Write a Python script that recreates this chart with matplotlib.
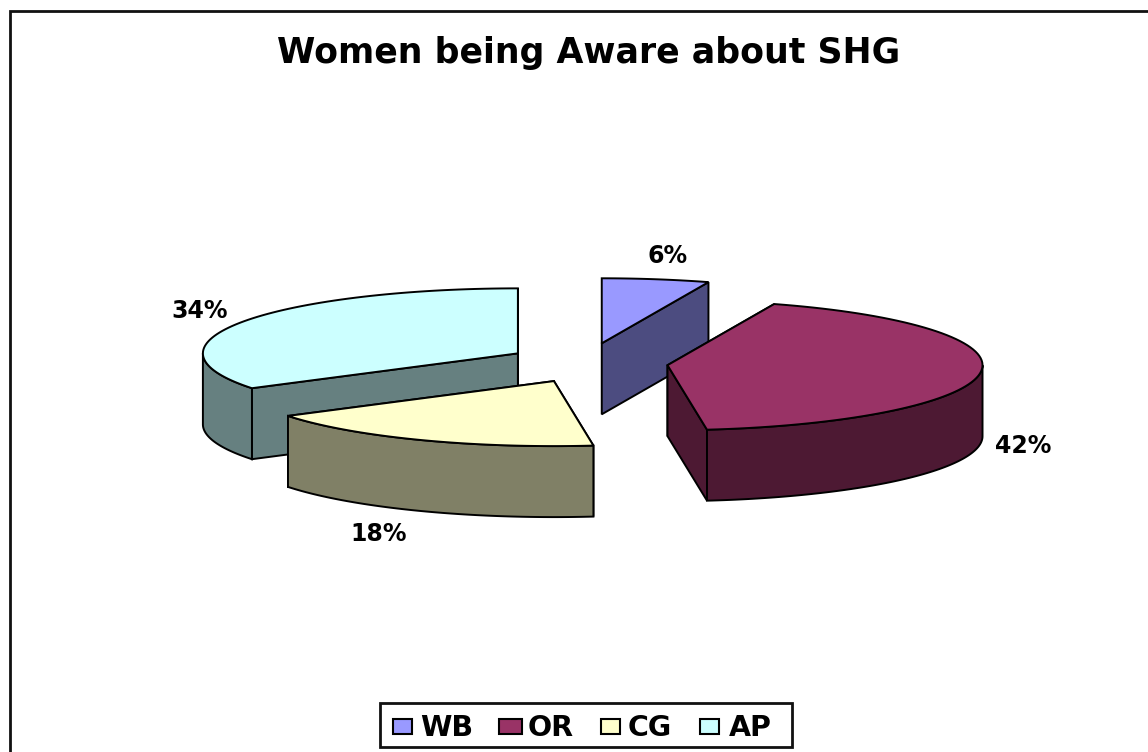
import numpy as np
import matplotlib
matplotlib.use('Agg')
import matplotlib.pyplot as plt
from matplotlib.patches import Polygon, Rectangle

categories = ['WB', 'OR', 'CG', 'AP']
shares = [5.5, 42.5, 18.0, 34.0]
top_colors = ['#9999FF', '#993366', '#FFFFCC', '#CCFFFF']
wall_colors = ['#4C4C80', '#4D1933', '#808066', '#668080']

# pie geometry in image pixels
CX, CY = 588, 363
RX, RY = 315, 65
DEPTH = 71
EXPLODE_X, EXPLODE_Y = 80, 20

label_pos = [(668, 263), (1023, 453), (379, 541), (200, 318)]


def rim(ax_x, ax_y, a0, a1):
    t = np.radians(np.linspace(a0, a1, 80))
    return np.column_stack([ax_x + RX * np.sin(t), ax_y - RY * np.cos(t)])


def draw_slice(ax, a0, a1, top, wall):
    mid = np.radians((a0 + a1) / 2)
    x = CX + EXPLODE_X * np.sin(mid)
    y = CY - EXPLODE_Y * np.cos(mid)
    arc = rim(x, y, a0, a1)
    down = np.array([0, DEPTH])

    # cut faces
    for end in (arc[0], arc[-1]):
        face = [(x, y), end, end + down, (x, y + DEPTH)]
        ax.add_patch(Polygon(face, closed=True, fc=wall, ec='black', lw=1.4))
    # outer wall, only the front half shows
    lo, hi = max(a0, 90), min(a1, 270)
    if hi > lo:
        front = rim(x, y, lo, hi)
        ax.add_patch(Polygon(np.vstack([front, (front + down)[::-1]]), closed=True,
                             fc=wall, ec='black', lw=1.4))
    ax.add_patch(Polygon(np.vstack([[(x, y)], arc]), closed=True, fc=top, ec='black', lw=1.4))


fig = plt.figure(figsize=(11.48, 7.52), dpi=100)
ax = fig.add_axes([0, 0, 1, 1])
ax.set_xlim(0, 1148)
ax.set_ylim(752, 0)
ax.axis('off')

# chart frame, runs off the image on the right and bottom
ax.plot([10, 10, 1148], [752, 11, 11], color='#111111', lw=2, solid_joinstyle='miter')

ends = np.cumsum(shares) / np.sum(shares) * 360
starts = np.concatenate([[0], ends[:-1]])
slices = list(zip(starts, ends, top_colors, wall_colors))
for i in [3, 0, 1, 2]:
    draw_slice(ax, *slices[i])

font = 'DejaVu Sans'
for share, (lx, ly) in zip(shares, label_pos):
    ax.text(lx, ly, f'{share:.0f}%', ha='center', va='baseline', family=font,
            weight='bold', fontsize=17)

ax.text(588.5, 63, 'Women being Aware about SHG', ha='center', va='baseline', family=font,
        weight='bold', fontsize=25)

# legend
ax.add_patch(Rectangle((380, 703), 412, 44, fc='white', ec='#111111', lw=2))
key_x = [393, 499, 601, 700]
key_w = [19, 23, 19, 19]
text_x = [420, 528, 628, 729]
for name, color, kx, kw, tx in zip(categories, top_colors, key_x, key_w, text_x):
    ax.add_patch(Rectangle((kx, 719), kw, 15, fc=color, ec='black', lw=1.5))
    ax.text(tx, 736, name, ha='left', va='baseline', family=font, weight='bold', fontsize=20.5)

fig.savefig('out.png', dpi=100)
